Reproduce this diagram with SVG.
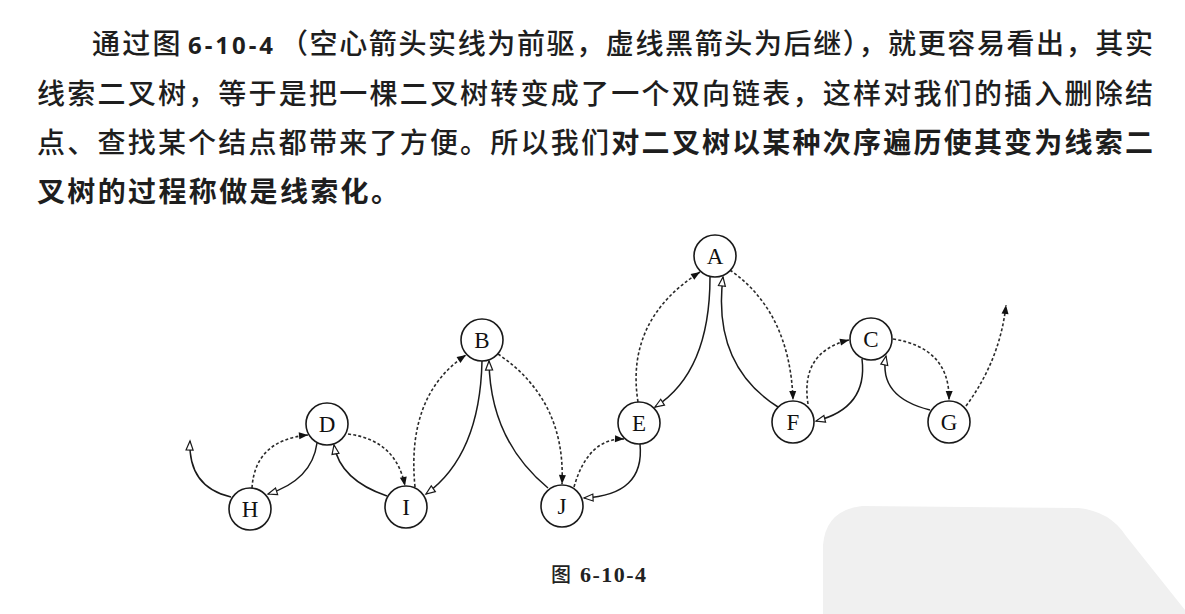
<svg xmlns="http://www.w3.org/2000/svg" width="1185" height="614" viewBox="0 0 1185 614">
<style>
.t{font-family:"Noto Sans CJK SC","Noto Sans",sans-serif;font-size:28px;font-weight:500;fill:#1e1e1e;}
.b{font-weight:bold;}
.num{font-family:"Noto Sans","Liberation Sans",sans-serif;font-size:24px;font-weight:bold;fill:#1e1e1e;}
.cap{font-family:"Noto Sans CJK SC",sans-serif;font-size:20px;font-weight:500;fill:#222;}
.capn{font-family:"Liberation Serif",serif;font-size:22px;font-weight:bold;fill:#222;}
.node circle{fill:#fff;stroke:#1a1a1a;stroke-width:1.6;}
.node text{font-family:"Liberation Serif",serif;font-size:23px;fill:#111;text-anchor:middle;}
.pre{fill:none;stroke:#1a1a1a;stroke-width:1.5;marker-end:url(#hollow);}
.suc{fill:none;stroke:#2a2a2a;stroke-width:1.6;stroke-dasharray:3 2.2;marker-end:url(#solid);}
</style>
<defs>
<marker id="hollow" markerUnits="userSpaceOnUse" markerWidth="12" markerHeight="10" refX="9" refY="3.5" orient="auto" overflow="visible">
<path d="M0,0 L9,3.5 L0,7 Z" fill="#fff" stroke="#1a1a1a" stroke-width="1.2"/>
</marker>
<marker id="solid" markerUnits="userSpaceOnUse" markerWidth="12" markerHeight="10" refX="9" refY="3.5" orient="auto" overflow="visible">
<path d="M0,0 L9,3.5 L0,7 Z" fill="#111"/>
</marker>
</defs>
<rect width="1185" height="614" fill="#fff"/>
<path d="M823,614 L823,545 Q826,510 862,506 L1078,508 Q1110,511 1126,536 L1185,610 L1185,614 Z" fill="#f0f0f0"/>

<g id="paragraph">
<text class="t" x="92" y="54" letter-spacing="2.2">通过图</text>
<text class="num" x="188" y="54" textLength="85" lengthAdjust="spacing">6-10-4</text>
<text class="t" x="280" y="54" textLength="873" lengthAdjust="spacing">（空心箭头实线为前驱，虚线黑箭头为后继），就更容易看出，其实</text>
<text class="t" x="37" y="103.5" textLength="1116" lengthAdjust="spacing">线索二叉树，等于是把一棵二叉树转变成了一个双向链表，这样对我们的插入删除结</text>
<text class="t" x="37" y="153" textLength="1116" lengthAdjust="spacing">点、查找某个结点都带来了方便。所以我们<tspan class="b">对二叉树以某种次序遍历使其变为线索二</tspan></text>
<text class="t b" x="37" y="202" textLength="362" lengthAdjust="spacing">叉树的过程称做是线索化。</text>
</g>

<g id="connectors">
<path class="pre" d="M231,497 Q188,487 190,441"/>
<path class="suc" d="M252,488 Q255,440 308,435"/>
<path class="pre" d="M317,443 Q312,480 268,494"/>
<path class="suc" d="M348,434 Q396,440 405,486"/>
<path class="pre" d="M387,496 Q340,480 334,445"/>
<path class="suc" d="M415,487 Q406,395 466,355"/>
<path class="pre" d="M482,361 Q480,455 426,494"/>
<path class="pre" d="M548,488 Q490,440 489,361"/>
<path class="suc" d="M498,354 Q566,400 562,484"/>
<path class="suc" d="M574,487 Q588,438 624,439"/>
<path class="pre" d="M640,444 Q645,495 584,498"/>
<path class="suc" d="M638,402 Q625,320 700,272"/>
<path class="pre" d="M710,277 Q710,372 655,407"/>
<path class="pre" d="M778,407 Q712,365 723,277"/>
<path class="suc" d="M730,270 Q790,312 793,400"/>
<path class="suc" d="M808,404 Q800,352 849,340"/>
<path class="pre" d="M862,359 Q868,408 816,421"/>
<path class="suc" d="M893,339 Q950,348 949,400"/>
<path class="pre" d="M930,410 Q878,397 886,356"/>
<path class="suc" d="M966,406 Q1000,360 1006,305"/>
</g>

<g id="node-A" class="node"><circle cx="715" cy="256" r="21"/><text x="715" y="264">A</text></g>
<g id="node-B" class="node"><circle cx="482" cy="340" r="21"/><text x="482" y="348">B</text></g>
<g id="node-C" class="node"><circle cx="871" cy="339" r="21"/><text x="871" y="347">C</text></g>
<g id="node-D" class="node"><circle cx="327" cy="424" r="21"/><text x="327" y="432">D</text></g>
<g id="node-E" class="node"><circle cx="639" cy="423" r="21"/><text x="639" y="431">E</text></g>
<g id="node-F" class="node"><circle cx="793" cy="422" r="21"/><text x="793" y="430">F</text></g>
<g id="node-G" class="node"><circle cx="949" cy="422" r="21"/><text x="949" y="430">G</text></g>
<g id="node-H" class="node"><circle cx="250" cy="509" r="21"/><text x="250" y="517">H</text></g>
<g id="node-I" class="node"><circle cx="406" cy="507" r="21"/><text x="406" y="515">I</text></g>
<g id="node-J" class="node"><circle cx="562" cy="506" r="21"/><text x="562" y="514">J</text></g>

<g id="caption">
<text class="cap" x="551" y="582">图</text>
<text class="capn" x="580" y="582" textLength="66" lengthAdjust="spacing">6-10-4</text>
</g>
</svg>
